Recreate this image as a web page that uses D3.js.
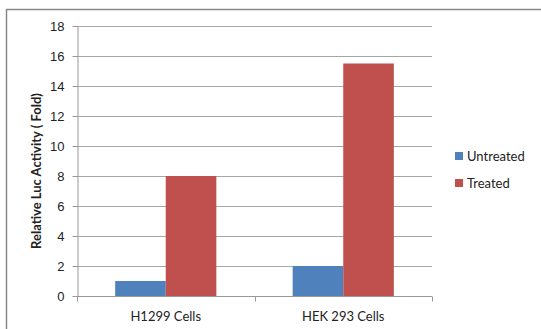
<!DOCTYPE html>
<html>
<head>
<meta charset="utf-8">
<script src="https://d3js.org/d3.v7.min.js"></script>
<style>
  body { margin: 0; background: #fff; }
  svg { display: block; font-family: Lato, "Open Sans", sans-serif; }
  .grid line { stroke: #a6a6a6; stroke-width: 1px; }
  .axis path, .axis line { stroke: #999; }
  .axis text { font-size: 13px; fill: #222; }
</style>
</head>
<body>
<div id="chart"></div>
<script>
// data
const categories = ["H1299 Cells", "HEK 293 Cells"];
const seriesNames = ["Untreated", "Treated"];
const untreated = [1, 2];
const treated = [8, 15.5];
const yTicks = [0, 2, 4, 6, 8, 10, 12, 14, 16, 18];
const colors = ["#4f81bd", "#c0504d"];

const width = 541, height = 329;
const margin = { top: 26, right: 109, bottom: 33, left: 77 };
const innerWidth = width - margin.left - margin.right;
const innerHeight = height - margin.top - margin.bottom;

const svg = d3.select("#chart").append("svg")
  .attr("width", width)
  .attr("height", height);

// outer frame (right and bottom edges fall outside the picture)
svg.append("path")
  .attr("d", `M6.5,${height} V9.5 H${width}`)
  .attr("fill", "none")
  .attr("stroke", "#888")
  .attr("stroke-width", 1.5);

const g = svg.append("g")
  .attr("transform", `translate(${margin.left},${margin.top})`);

const x0 = d3.scaleBand()
  .domain(categories)
  .range([0, innerWidth])
  .paddingInner(0.43)
  .paddingOuter(0.215);

const x1 = d3.scaleBand()
  .domain(seriesNames)
  .range([0, x0.bandwidth()]);

const y = d3.scaleLinear()
  .domain([0, 18])
  .range([innerHeight, 0]);

// gridlines
g.append("g")
  .attr("class", "grid")
  .selectAll("line")
  .data(yTicks.filter(d => d > 0))
  .join("line")
  .attr("x1", 0).attr("x2", innerWidth)
  .attr("y1", d => Math.round(y(d)) + 0.5)
  .attr("y2", d => Math.round(y(d)) + 0.5);

// bars
const rows = categories.map((c, i) => ({ cat: c, values: [untreated[i], treated[i]] }));

g.selectAll(".group")
  .data(rows)
  .join("g")
  .attr("class", "group")
  .attr("transform", d => `translate(${x0(d.cat)},0)`)
  .selectAll("rect")
  .data(d => d.values.map((v, j) => ({ key: seriesNames[j], value: v, j })))
  .join("rect")
  .attr("x", d => x1(d.key))
  .attr("y", d => y(d.value))
  .attr("width", x1.bandwidth())
  .attr("height", d => innerHeight - y(d.value))
  .attr("fill", d => colors[d.j]);

// y axis
const yAxis = g.append("g")
  .attr("class", "axis")
  .attr("transform", "translate(0.5,0)")
  .call(d3.axisLeft(y).tickValues(yTicks).tickSize(5).tickPadding(8).tickSizeOuter(0));
yAxis.selectAll(".tick text").attr("dy", "0.35em");

// x axis with ticks at category boundaries
const xAxis = g.append("g")
  .attr("class", "axis")
  .attr("transform", `translate(0,${Math.round(innerHeight) + 0.5})`);
xAxis.append("line")
  .attr("x1", 0).attr("x2", innerWidth);
const bounds = [0, innerWidth / 2, innerWidth];
xAxis.selectAll(".bt")
  .data(bounds)
  .join("line")
  .attr("x1", d => Math.round(d) + 0.5)
  .attr("x2", d => Math.round(d) + 0.5)
  .attr("y1", 0).attr("y2", 5);
xAxis.selectAll(".cat")
  .data(categories)
  .join("text")
  .attr("x", d => x0(d) + x0.bandwidth() / 2)
  .attr("y", 24)
  .attr("text-anchor", "middle")
  .text(d => d);

// y axis title
svg.append("text")
  .attr("transform", `translate(41,${margin.top + innerHeight / 2 + 10}) rotate(-90)`)
  .attr("text-anchor", "middle")
  .attr("font-size", "13px")
  .attr("font-weight", "bold")
  .attr("fill", "#222")
  .text("Relative Luc Activity ( Fold)");

// legend
const legend = svg.append("g")
  .attr("transform", "translate(455,152)");
seriesNames.forEach((s, i) => {
  const row = legend.append("g").attr("transform", `translate(0,${i * 27})`);
  row.append("rect")
    .attr("x", 0).attr("y", 0)
    .attr("width", 8).attr("height", 8)
    .attr("fill", colors[i]);
  row.append("text")
    .attr("x", 12).attr("y", 4)
    .attr("dy", "0.35em")
    .attr("font-size", "13px")
    .attr("fill", "#222")
    .text(s);
});
</script>
</body>
</html>
